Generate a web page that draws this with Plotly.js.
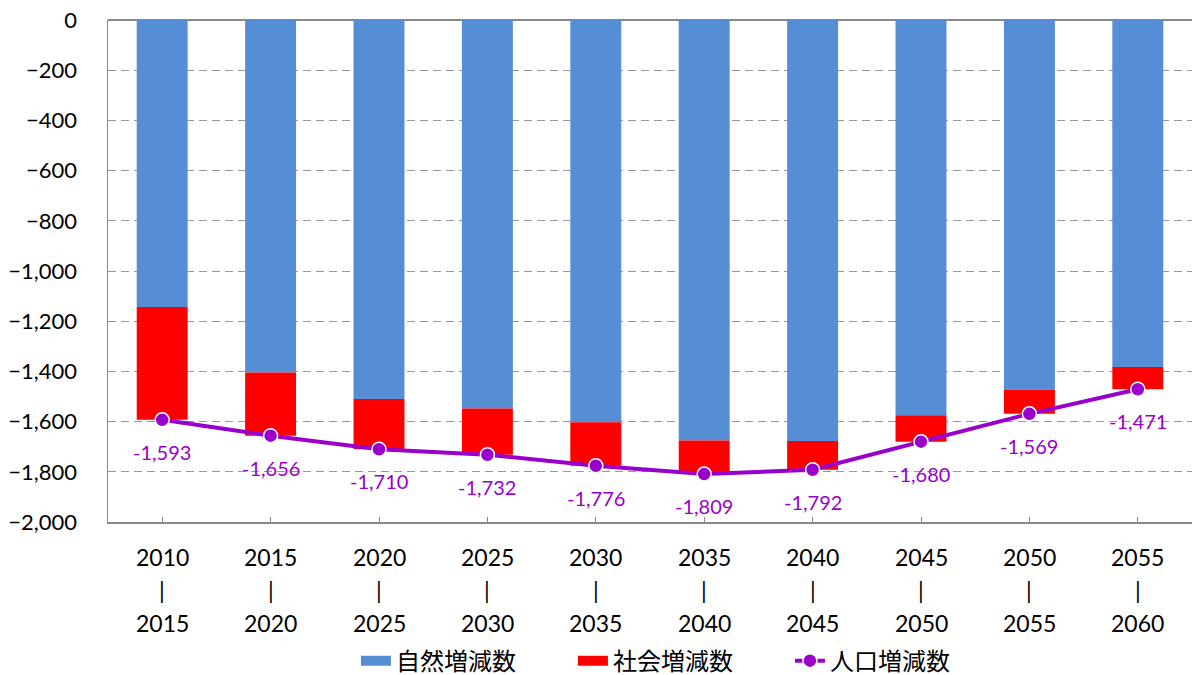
<!DOCTYPE html>
<html><head><meta charset="utf-8">
<script src="https://cdn.plot.ly/plotly-3.0.1.min.js"></script>
<style>html,body{margin:0;padding:0;background:#fff;overflow:hidden}#chart{width:1192px;height:675px}</style>
</head><body><div id="chart"></div>
<script>
const periodStart = ["2010","2015","2020","2025","2030","2035","2040","2045","2050","2055"];
const periodEnd   = ["2015","2020","2025","2030","2035","2040","2045","2050","2055","2060"];
const naturalChange = [-1143,-1404,-1510,-1548,-1603,-1675,-1677,-1575,-1473,-1382];
const socialChange  = [-450,-252,-200,-184,-173,-134,-115,-105,-96,-89];
const totalChange   = [-1593,-1656,-1710,-1732,-1776,-1809,-1792,-1680,-1569,-1471];
const seriesNames = ["自然増減数","社会増減数","人口増減数"];

const cats = periodStart.map((s,i)=>s+"-"+periodEnd[i]);
const FONT = "Lato, 'Noto Sans CJK JP', sans-serif";
const PURPLE = "#9900CC";
const BLUE = "#558ED5", RED = "#FF0000";

const traces = [
  {type:"bar", x:cats, y:naturalChange, name:seriesNames[0], marker:{color:BLUE}, hoverinfo:"skip", showlegend:false},
  {type:"bar", x:cats, y:socialChange, name:seriesNames[1], marker:{color:RED}, hoverinfo:"skip", showlegend:false},
  {type:"scatter", mode:"lines", x:[null], y:[null], name:seriesNames[0], line:{color:BLUE, width:15}, showlegend:true},
  {type:"scatter", mode:"lines", x:[null], y:[null], name:seriesNames[1], line:{color:RED, width:15}, showlegend:true},
  {type:"scatter", mode:"lines+markers", x:cats, y:totalChange, name:seriesNames[2],
   line:{color:PURPLE, width:4}, marker:{color:PURPLE, size:14, line:{color:"#fff", width:1.5}}, hoverinfo:"skip"}
];

const annotations = [];
cats.forEach((c,i)=>{
  const fmt = totalChange[i].toLocaleString("en-US");
  annotations.push({x:c, y:totalChange[i], xref:"x", yref:"y", text:fmt, showarrow:false,
    yshift:-32, font:{family:FONT, size:20, color:PURPLE}});
  [periodStart[i], "|", periodEnd[i]].forEach((t,k)=>{
    annotations.push({x:c, y:0, xref:"x", yref:"paper", text:t, showarrow:false,
      yanchor:"middle", yshift:-35-33*k, font:{family:FONT, size:23, color:"#000"}});
  });
});

const layout = {
  width:1192, height:675,
  margin:{l:108, r:0, t:20, b:153, autoexpand:false},
  paper_bgcolor:"#fff", plot_bgcolor:"#fff",
  barmode:"relative", bargap:0.53,
  font:{family:FONT, size:20, color:"#000"},
  showlegend:true,
  legend:{orientation:"h", x:0.529, xanchor:"center", y:-0.277, yanchor:"middle",
    font:{family:FONT, size:24, color:"#000"}, traceorder:"normal", itemwidth:30, entrywidth:172,
    tracegroupgap:0},
  xaxis:{type:"category", range:[-0.5, 9.5], autorange:false, showticklabels:false, ticks:"inside", ticklen:5, tickcolor:"#888",
    showline:true, linecolor:"#888", linewidth:1.5, showgrid:false, zeroline:false, fixedrange:true},
  yaxis:{range:[-2000,0], dtick:200, tickformat:",d", showgrid:true, gridcolor:"#999",
    griddash:"8px,5px", gridwidth:1, zeroline:true, zerolinecolor:"#888", zerolinewidth:1.5,
    showline:true, linecolor:"#888", linewidth:1.5, ticks:"", ticklabelstandoff:25,
    tickfont:{family:FONT, size:22, color:"#000"}, fixedrange:true},
  annotations:annotations
};
Plotly.newPlot("chart", traces, layout, {displayModeBar:false, staticPlot:true});
</script></body></html>
